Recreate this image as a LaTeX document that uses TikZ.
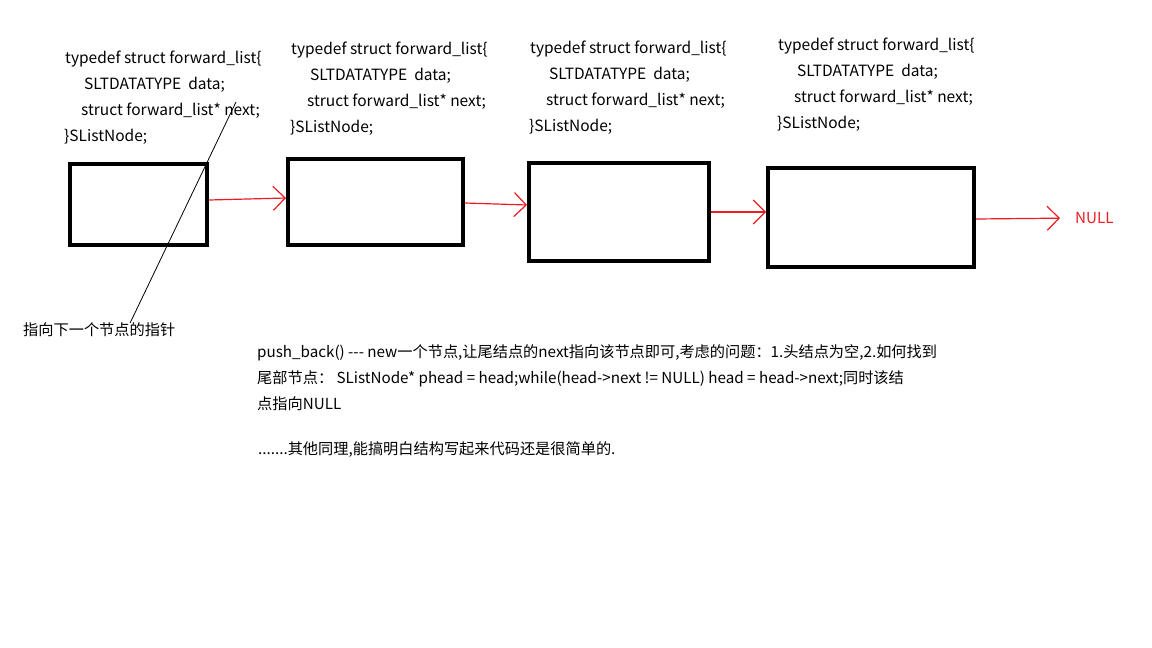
\documentclass[tikz,border=0pt]{standalone}
\usepackage{fontspec}
\setmainfont{Noto Sans CJK SC}
\usepackage{tikz}
\usetikzlibrary{arrows.meta}
\definecolor{paintred}{RGB}{237,28,36}
\tikzset{
	listbox/.style={draw, line width=4pt, inner sep=0pt},
	link/.style={draw=paintred, line width=1.2pt, -{Straight Barb[length=12pt, width=24pt]}},
	codeline/.style={anchor=base west, inner sep=0pt, font=\fontsize{15.5}{26}\selectfont},
	noteline/.style={anchor=base west, inner sep=0pt, font=\fontsize{15.2}{26}\selectfont},
}
\begin{document}
\begin{tikzpicture}[x=1pt, y=-1pt]
		\useasboundingbox[fill=white] (0, 0) rectangle (1152, 648);

		\foreach \i/\x/\y in {1/65/63, 2/291/54, 3/530/53, 4/778/50} {
			\node[codeline] (code\i a) at (\x, \y) {typedef struct forward\_list\{};
			\node[codeline] (code\i b) at (\x + 19, \y + 26) {SLTDATATYPE~ data;};
			\node[codeline] (code\i c) at (\x + 16, \y + 52) {struct forward\_list* next;};
			\node[codeline] (code\i d) at (\x - 1, \y + 78) {\}SListNode;};
		}

		\node[listbox, minimum width=137pt, minimum height=81pt] (n1) at (138.5, 204.5) {};
		\node[listbox, minimum width=175pt, minimum height=86pt] (n2) at (375.5, 202) {};
		\node[listbox, minimum width=180pt, minimum height=98pt] (n3) at (619, 212) {};
		\node[listbox, minimum width=206pt, minimum height=99pt] (n4) at (871, 217.5) {};
		\node[noteline, anchor=west, text=paintred] (null) at (1075, 218) {NULL};

		\draw[link] ([yshift=4.5pt]n1.east) -- ([yshift=4pt]n2.west);
		\draw[link] ([yshift=-1pt]n2.east) -- ([yshift=7pt]n3.west);
		\draw[link] (n3.east) -- ([yshift=5.5pt]n4.west);
		\draw[link, shorten >=15pt] ([yshift=-1.5pt]n4.east) -- (null.west);

		\coordinate (nextptr) at (236, 102);
		\node[noteline, anchor=west] (ptrlabel) at (23, 330) {指向下一个节点的指针};
		\draw[line width=0.8pt] (nextptr) -- ([xshift=31pt]ptrlabel.north);

		\node[noteline] (note1) at (257, 357) {push\_back() -{}-{}- new一个节点,让尾结点的next指向该节点即可,考虑的问题：1.头结点为空,2.如何找到};
		\node[noteline] (note2) at (257, 383) {尾部节点： SListNode* phead = head;while(head->next != NULL) head = head->next;同时该结};
		\node[noteline] (note3) at (257, 409) {点指向NULL};
		\node[noteline] (note4) at (258, 454) {.......其他同理,能搞明白结构写起来代码还是很简单的.};
	\end{tikzpicture}
\end{document}
